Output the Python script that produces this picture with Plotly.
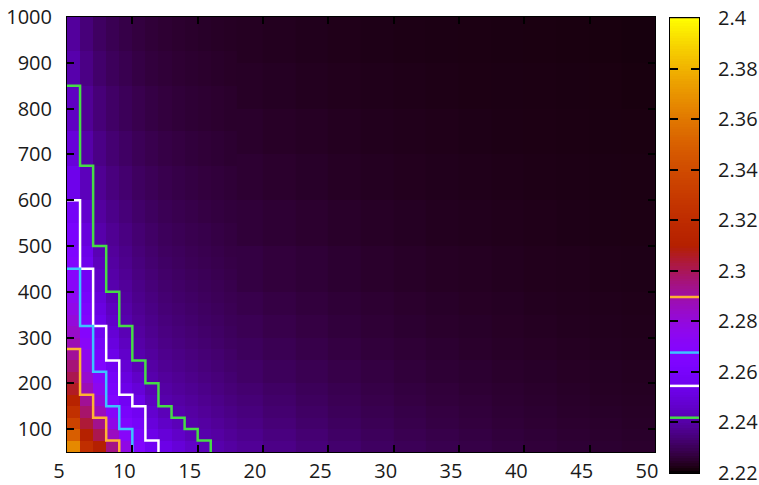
import math
import numpy as np
import plotly.graph_objects as go

# ---------------- data ----------------
# left block: x cells of width 1 from 5 to 18, rows (y) given by edges
x_edges_left = [5, 6, 7, 8, 9, 10, 11, 12, 13, 14, 15, 16, 17, 18]
y_edges_left = [50, 75, 100, 125, 150, 175, 200, 225, 250, 275, 300, 325, 350, 375,
                400, 425, 450, 475, 500, 550, 600, 675, 750, 850, 925, 1000]
# one list per x column, bottom row first
left_cols = [
    [2.366, 2.349, 2.335, 2.323, 2.313, 2.306, 2.3010, 2.2961, 2.2917, 2.2876, 2.2839, 2.2805, 2.2773,
     2.2744, 2.2716, 2.2691, 2.2667, 2.2645, 2.2614, 2.2576, 2.2536, 2.2493, 2.2451, 2.2412, 2.2388],
    [2.322, 2.3107, 2.3037, 2.2976, 2.2921, 2.2872, 2.2828, 2.2788, 2.2751, 2.2718, 2.2687, 2.2659, 2.2632,
     2.2608, 2.2586, 2.2564, 2.2540, 2.2526, 2.2500, 2.2470, 2.2436, 2.2405, 2.2379, 2.2357, 2.2341],
    [2.3099, 2.3010, 2.2932, 2.2863, 2.2802, 2.2748, 2.2699, 2.2657, 2.2621, 2.2588, 2.2558, 2.2533, 2.2511,
     2.2492, 2.2473, 2.2456, 2.2440, 2.2425, 2.2409, 2.2393, 2.2376, 2.2358, 2.2340, 2.2324, 2.2312],
    [2.2942, 2.2853, 2.2776, 2.2708, 2.2656, 2.2620, 2.2587, 2.2558, 2.2531, 2.2506, 2.2484, 2.2463, 2.2444,
     2.2426, 2.2413, 2.2404, 2.2395, 2.2387, 2.2376, 2.2363, 2.2348, 2.2333, 2.2318, 2.2305, 2.2295],
    [2.2780, 2.2708, 2.2651, 2.2604, 2.2563, 2.2531, 2.2506, 2.2483, 2.2463, 2.2444, 2.2426, 2.2413, 2.2403,
     2.2394, 2.2385, 2.2377, 2.2369, 2.2363, 2.2353, 2.2341, 2.2328, 2.2315, 2.2302, 2.2291, 2.2282],
    [2.2662, 2.2623, 2.2588, 2.2558, 2.2525, 2.2491, 2.2459, 2.2431, 2.2412, 2.2402, 2.2392, 2.2383, 2.2374,
     2.2366, 2.2359, 2.2352, 2.2346, 2.2340, 2.2332, 2.2322, 2.2311, 2.2300, 2.2289, 2.2279, 2.2272],
    [2.2562, 2.2528, 2.2498, 2.2472, 2.2449, 2.2428, 2.2412, 2.2400, 2.2390, 2.2380, 2.2371, 2.2363, 2.2355,
     2.2349, 2.2342, 2.2336, 2.2330, 2.2325, 2.2318, 2.2309, 2.2299, 2.2289, 2.2279, 2.2270, 2.2264],
    [2.2525, 2.2490, 2.2458, 2.2431, 2.2411, 2.2399, 2.2388, 2.2377, 2.2368, 2.2360, 2.2352, 2.2345, 2.2338,
     2.2332, 2.2326, 2.2321, 2.2316, 2.2311, 2.2305, 2.2297, 2.2289, 2.2280, 2.2271, 2.2263, 2.2258],
    [2.2491, 2.2459, 2.2431, 2.2411, 2.2398, 2.2386, 2.2376, 2.2366, 2.2357, 2.2349, 2.2342, 2.2335, 2.2329,
     2.2323, 2.2318, 2.2313, 2.2308, 2.2304, 2.2297, 2.2290, 2.2282, 2.2274, 2.2265, 2.2258, 2.2253],
    [2.2459, 2.2431, 2.2410, 2.2397, 2.2385, 2.2374, 2.2364, 2.2355, 2.2347, 2.2339, 2.2332, 2.2326, 2.2320,
     2.2315, 2.2309, 2.2305, 2.2300, 2.2296, 2.2290, 2.2284, 2.2276, 2.2268, 2.2260, 2.2254, 2.2249],
    [2.2432, 2.2410, 2.2396, 2.2383, 2.2372, 2.2362, 2.2352, 2.2344, 2.2336, 2.2330, 2.2323, 2.2317, 2.2312,
     2.2307, 2.2302, 2.2298, 2.2294, 2.2290, 2.2285, 2.2278, 2.2271, 2.2264, 2.2257, 2.2251, 2.2246],
    [2.2412, 2.2397, 2.2383, 2.2371, 2.2361, 2.2351, 2.2343, 2.2335, 2.2328, 2.2321, 2.2315, 2.2310, 2.2305,
     2.2300, 2.2296, 2.2291, 2.2288, 2.2284, 2.2279, 2.2273, 2.2267, 2.2260, 2.2253, 2.2247, 2.2243],
    [2.2395, 2.2381, 2.2369, 2.2358, 2.2348, 2.2339, 2.2331, 2.2324, 2.2318, 2.2312, 2.2306, 2.2301, 2.2296,
     2.2292, 2.2288, 2.2284, 2.2281, 2.2278, 2.2273, 2.2268, 2.2262, 2.2255, 2.2249, 2.2244, 2.2240],
]

# right block: wider cells
x_edges_right = [18, 20, 22.5, 25, 27.5, 30, 32.5, 35, 37.5, 40, 42.5, 45, 47.5, 50]
y_edges_right = [50, 75, 100, 125, 150, 175, 200, 250, 300, 350, 400, 500, 600, 700, 800, 900, 1000]
right_cols = [
    [2.2380, 2.2367, 2.2356, 2.2346, 2.2337, 2.2329, 2.2318, 2.2306, 2.2296, 2.2287, 2.2276, 2.2265, 2.2256, 2.2249, 2.2243, 2.2238],
    [2.2360, 2.2349, 2.2339, 2.2330, 2.2322, 2.2315, 2.2305, 2.2295, 2.2286, 2.2278, 2.2269, 2.2259, 2.2251, 2.2244, 2.2239, 2.2235],
    [2.2342, 2.2332, 2.2323, 2.2315, 2.2308, 2.2302, 2.2294, 2.2284, 2.2277, 2.2270, 2.2262, 2.2253, 2.2246, 2.2240, 2.2235, 2.2231],
    [2.2326, 2.2317, 2.2309, 2.2302, 2.2296, 2.2291, 2.2283, 2.2275, 2.2268, 2.2262, 2.2255, 2.2247, 2.2241, 2.2236, 2.2232, 2.2228],
    [2.2312, 2.2304, 2.2297, 2.2291, 2.2286, 2.2281, 2.2275, 2.2267, 2.2261, 2.2256, 2.2250, 2.2243, 2.2237, 2.2233, 2.2229, 2.2226],
    [2.2300, 2.2293, 2.2287, 2.2282, 2.2277, 2.2273, 2.2267, 2.2261, 2.2255, 2.2251, 2.2245, 2.2239, 2.2234, 2.2230, 2.2227, 2.2224],
    [2.2290, 2.2284, 2.2278, 2.2274, 2.2269, 2.2266, 2.2260, 2.2255, 2.2250, 2.2246, 2.2241, 2.2235, 2.2231, 2.2228, 2.2225, 2.2222],
    [2.2281, 2.2276, 2.2271, 2.2267, 2.2263, 2.2259, 2.2255, 2.2250, 2.2246, 2.2242, 2.2238, 2.2233, 2.2229, 2.2226, 2.2223, 2.2221],
    [2.2273, 2.2268, 2.2264, 2.2260, 2.2257, 2.2254, 2.2250, 2.2245, 2.2242, 2.2239, 2.2235, 2.2230, 2.2227, 2.2224, 2.2222, 2.2220],
    [2.2266, 2.2262, 2.2258, 2.2255, 2.2252, 2.2249, 2.2246, 2.2242, 2.2238, 2.2235, 2.2232, 2.2228, 2.2225, 2.2223, 2.2221, 2.2219],
    [2.2260, 2.2256, 2.2253, 2.2250, 2.2247, 2.2245, 2.2242, 2.2238, 2.2235, 2.2233, 2.2230, 2.2226, 2.2224, 2.2221, 2.2220, 2.2218],
    [2.2255, 2.2252, 2.2249, 2.2246, 2.2243, 2.2241, 2.2239, 2.2235, 2.2233, 2.2230, 2.2227, 2.2224, 2.2222, 2.2220, 2.2219, 2.2217],
    [2.2251, 2.2248, 2.2245, 2.2243, 2.2240, 2.2238, 2.2236, 2.2233, 2.2230, 2.2228, 2.2226, 2.2223, 2.2221, 2.2219, 2.2217, 2.2216],
]

contour_levels = [2.2418, 2.2544, 2.2676, 2.2896]
contour_colors = ["#46dc46", "#ffffff", "#3cc3ff", "#ffb232"]

x_tickvals = [5, 10, 15, 20, 25, 30, 35, 40, 45, 50]
y_tickvals = [100, 200, 300, 400, 500, 600, 700, 800, 900, 1000]
cb_tickvals = [2.22, 2.24, 2.26, 2.28, 2.30, 2.32, 2.34, 2.36, 2.38, 2.40]
cb_ticktext = ["2.22", "2.24", "2.26", "2.28", "2.3", "2.32", "2.34", "2.36", "2.38", "2.4"]
zmin, zmax = 2.22, 2.40

# ---------------- palette (gnuplot rgbformulae 7,5,15) ----------------
colorscale = []
for i in range(101):
    s = i / 100
    r = math.sqrt(s)
    g = s ** 3
    b = max(0.0, math.sin(2 * math.pi * s))
    colorscale.append([s, f"rgb({round(255*r)},{round(255*g)},{round(255*b)})"])

FONT = "Open Sans"
fig = go.Figure()

fig.add_trace(go.Heatmap(x=x_edges_left, y=y_edges_left, z=left_cols, transpose=True,
                         coloraxis="coloraxis", hoverinfo="skip"))
fig.add_trace(go.Heatmap(x=x_edges_right, y=y_edges_right, z=right_cols, transpose=True,
                         coloraxis="coloraxis", hoverinfo="skip"))

# staircase contour lines along cell borders
for lev, col in zip(contour_levels, contour_colors):
    ks = [sum(1 for v in c if v >= lev) for c in left_cols]
    xs, ys = [], []
    for i, k in enumerate(ks):
        xs.append(x_edges_left[i]); ys.append(y_edges_left[k])
        if k == 0:
            break
        xs.append(x_edges_left[i + 1]); ys.append(y_edges_left[k])
    fig.add_trace(go.Scatter(x=xs, y=ys, mode="lines", line=dict(color=col, width=2.5),
                             hoverinfo="skip", showlegend=False))

# colour bar built as its own small subplot
cb_edges = np.linspace(zmin, zmax, 181)
cb_z = [[float((cb_edges[i] + cb_edges[i + 1]) / 2)] for i in range(len(cb_edges) - 1)]
fig.add_trace(go.Heatmap(x=[0, 1], y=cb_edges, z=cb_z, coloraxis="coloraxis",
                         xaxis="x2", yaxis="y2", hoverinfo="skip"))
for lev, col in zip(contour_levels, contour_colors):
    fig.add_trace(go.Scatter(x=[0, 1], y=[lev, lev], mode="lines", xaxis="x2", yaxis="y2",
                             line=dict(color=col, width=2.5), hoverinfo="skip", showlegend=False))

tick_font = dict(family=FONT, size=20, color="#1a1a1a")
fig.update_layout(
    width=759, height=485,
    margin=dict(l=0, r=0, t=0, b=0, autoexpand=False),
    paper_bgcolor="white", plot_bgcolor="rgb(38,0,36)",
    showlegend=False,
    coloraxis=dict(cmin=zmin, cmax=zmax, colorscale=colorscale, showscale=False),
    xaxis=dict(domain=[67/759, 655/759], range=[5, 50], tickvals=x_tickvals, automargin=False,
               ticks="inside", ticklen=7, tickwidth=1.5, tickcolor="black", mirror="ticks",
               showline=True, linecolor="black", linewidth=1, showgrid=False, zeroline=False,
               tickfont=tick_font, ticklabelshift=-8, ticklabelstandoff=1,
               ticklabeloverflow="allow"),
    yaxis=dict(domain=[33/485, 468/485], range=[50, 1000], tickvals=y_tickvals, automargin=False,
               ticks="inside", ticklen=7, tickwidth=1.5, tickcolor="black", mirror="ticks",
               showline=True, linecolor="black", linewidth=1, showgrid=False, zeroline=False,
               tickfont=tick_font, ticklabelstandoff=10, ticklabeloverflow="allow"),
    xaxis2=dict(domain=[670/759, 699/759], range=[0, 1], anchor="y2", showticklabels=False,
                ticks="", showline=True, mirror=True, linecolor="black", linewidth=1,
                showgrid=False, zeroline=False, automargin=False),
    yaxis2=dict(domain=[12/485, 467/485], range=[zmin - 0.0001, zmax + 0.0001], anchor="x2",
                side="right", tickvals=cb_tickvals, ticktext=cb_ticktext, ticks="inside",
                ticklen=8, tickwidth=1.5, tickcolor="black", mirror="ticks", showline=True,
                linecolor="black", linewidth=1, showgrid=False, zeroline=False,
                tickfont=tick_font, ticklabelstandoff=14, automargin=False,
                ticklabeloverflow="allow"),
)

fig.write_html("out.html")
